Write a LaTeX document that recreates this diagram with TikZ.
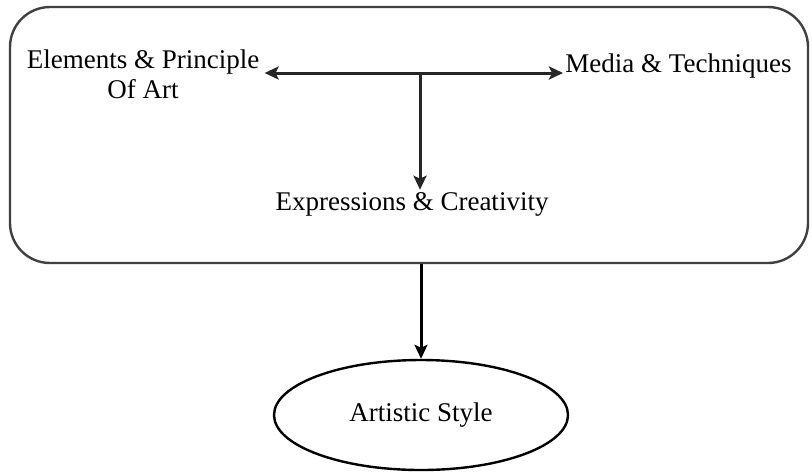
\documentclass[tikz,border=0pt]{standalone}
\usepackage{fontspec}
\setmainfont{Liberation Serif}
\newfontfamily\artfont{Liberation Serif}
\usepackage{tikz}
\usetikzlibrary{arrows.meta,shapes.geometric,calc}
\definecolor{ASFrame}{HTML}{404040}
\definecolor{ASLine}{HTML}{262626}

\begin{document}
\begin{tikzpicture}[
    x=0.5pt,y=-0.5pt,
    label/.style={align=center, inner sep=1pt, font=\artfont\fontsize{13.5}{15}\selectfont},
    flow/.style={-{Stealth[length=7pt,width=6.5pt,inset=1.5pt]}, line width=1.5pt, draw=ASLine},
    frame/.style={draw=ASFrame, line width=1.2pt, rounded corners=20pt,
      minimum width=399pt, minimum height=128pt},
    result/.style={ellipse, draw=black, line width=1.2pt,
      minimum width=147pt, minimum height=55pt, label}
  ]
    \useasboundingbox (0,0) rectangle (812,472);

    % outer group
    \node[frame] (frame) at (409,135) {};

    \node[label] (elem) at (143,74) {Elements \& Principle\\Of Art};
    \node[label, anchor=west] (media) at (563,66) {Media \& Techniques};
    \node[label] (expr) at (412,204) {Expressions \& Creativity};
    \coordinate (j) at (420,73);

    \draw[flow] (j) -- (j -| media.west);
    \draw[flow] (j) -- ($(j -| elem.east)+(3,0)$);
    \draw[flow] (j) -- (j |- expr.north);

    % result
    \node[result] (style) at (421,415) {Artistic Style};
    \draw[flow, draw=black] (frame.south -| style) -- (style.north);
\end{tikzpicture}
\end{document}
